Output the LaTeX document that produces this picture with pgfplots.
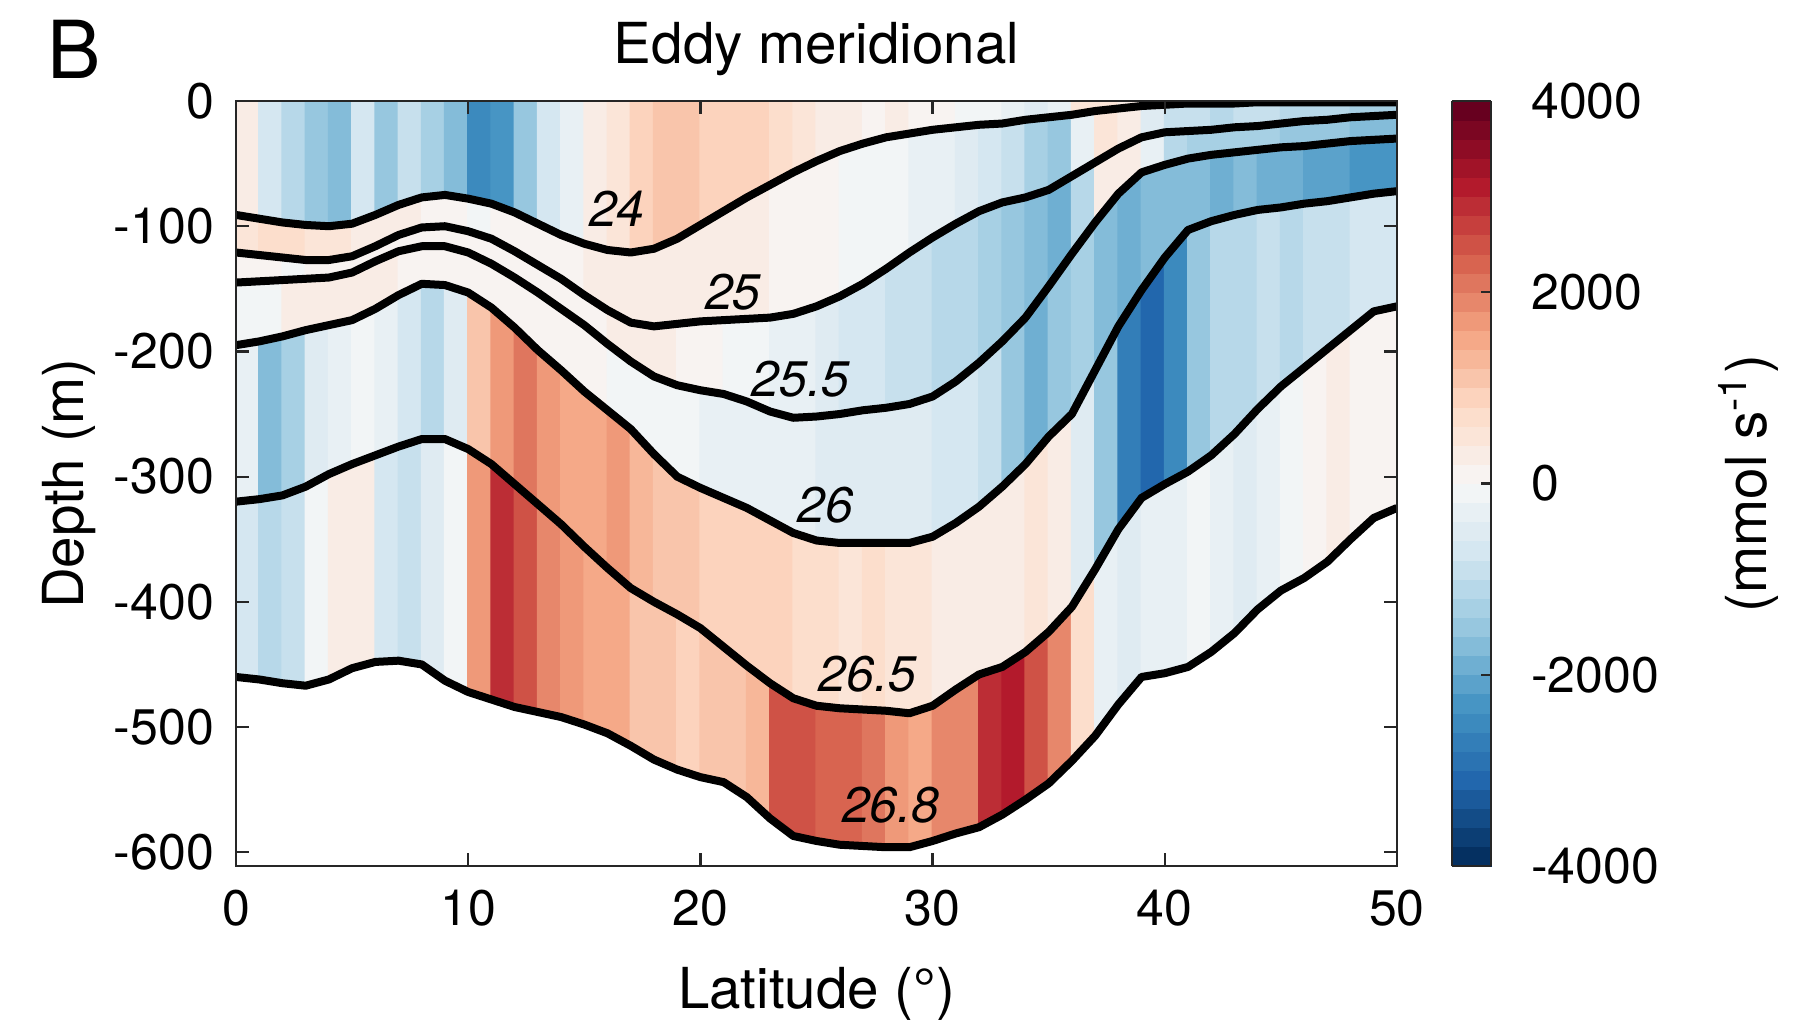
\documentclass[border=0pt]{standalone}
\usepackage{fontspec}
\setmainfont{TeX Gyre Heros}
\usepackage{pgfplots}
\usepackage{pgfplotstable}
\pgfplotsset{compat=1.18}
\pgfplotsset{colormap={rdbubase}{rgb255=(5,48,97) rgb255=(33,102,172) rgb255=(67,147,195) rgb255=(146,197,222) rgb255=(209,229,240) rgb255=(247,247,247) rgb255=(253,219,199) rgb255=(244,165,130) rgb255=(214,96,77) rgb255=(178,24,43) rgb255=(103,0,31)}}
% cells: value of the layer below each surface (k) for the latitude band [lat, lat+1)
\pgfplotstableread[row sep=\\]{
lat k d c\\
0 0 0 300\\ 0 1 -91 500\\ 0 2 -121 0\\ 0 3 -145 -200\\ 0 4 -195 -400\\ 0 5 -320 -700\\ 0 6 -460 0\\
1 0 0 -700\\ 1 1 -94 600\\ 1 2 -123 0\\ 1 3 -144 -100\\ 1 4 -192 -1800\\ 1 5 -318 -1200\\ 1 6 -462 0\\
2 0 0 -1200\\ 2 1 -97 600\\ 2 2 -125 -100\\ 2 3 -143 300\\ 2 4 -188 -1300\\ 2 5 -315 -900\\ 2 6 -465 0\\
3 0 0 -1600\\ 3 1 -99 500\\ 3 2 -127 0\\ 3 3 -142 300\\ 3 4 -183 -500\\ 3 5 -308 -200\\ 3 6 -467 0\\
4 0 0 -1700\\ 4 1 -100 400\\ 4 2 -127 100\\ 4 3 -141 300\\ 4 4 -179 -300\\ 4 5 -298 300\\ 4 6 -462 0\\
5 0 0 -800\\ 5 1 -98 300\\ 5 2 -124 100\\ 5 3 -137 200\\ 5 4 -175 -200\\ 5 5 -290 200\\ 5 6 -453 0\\
6 0 0 -1500\\ 6 1 -91 200\\ 6 2 -116 0\\ 6 3 -128 200\\ 6 4 -166 -300\\ 6 5 -283 -700\\ 6 6 -448 0\\
7 0 0 -900\\ 7 1 -83 200\\ 7 2 -107 0\\ 7 3 -120 100\\ 7 4 -155 -700\\ 7 5 -276 -1000\\ 7 6 -447 0\\
8 0 0 -1300\\ 8 1 -77 100\\ 8 2 -101 0\\ 8 3 -116 100\\ 8 4 -146 -1200\\ 8 5 -270 -600\\ 8 6 -450 0\\
9 0 0 -1800\\ 9 1 -75 0\\ 9 2 -100 0\\ 9 3 -116 0\\ 9 4 -147 -600\\ 9 5 -270 -100\\ 9 6 -463 0\\
10 0 0 -2600\\ 10 1 -78 -100\\ 10 2 -104 0\\ 10 3 -121 0\\ 10 4 -153 1000\\ 10 5 -278 1600\\ 10 6 -472 0\\
11 0 0 -2300\\ 11 1 -82 0\\ 11 2 -110 0\\ 11 3 -130 100\\ 11 4 -165 1700\\ 11 5 -290 2900\\ 11 6 -478 0\\
12 0 0 -1500\\ 12 1 -89 100\\ 12 2 -120 100\\ 12 3 -141 100\\ 12 4 -181 2000\\ 12 5 -306 2500\\ 12 6 -484 0\\
13 0 0 -800\\ 13 1 -98 100\\ 13 2 -131 100\\ 13 3 -153 0\\ 13 4 -199 1600\\ 13 5 -322 1800\\ 13 6 -488 0\\
14 0 0 -400\\ 14 1 -107 100\\ 14 2 -142 100\\ 14 3 -166 0\\ 14 4 -215 1500\\ 14 5 -338 1600\\ 14 6 -492 0\\
15 0 0 200\\ 15 1 -114 200\\ 15 2 -155 100\\ 15 3 -179 0\\ 15 4 -232 1500\\ 15 5 -356 1500\\ 15 6 -498 0\\
16 0 0 500\\ 16 1 -119 200\\ 16 2 -167 200\\ 16 3 -194 -100\\ 16 4 -247 1600\\ 16 5 -373 1500\\ 16 6 -505 0\\
17 0 0 900\\ 17 1 -121 300\\ 17 2 -177 200\\ 17 3 -208 -100\\ 17 4 -262 1200\\ 17 5 -389 1000\\ 17 6 -515 0\\
18 0 0 1100\\ 18 1 -118 300\\ 18 2 -180 200\\ 18 3 -220 -200\\ 18 4 -282 1000\\ 18 5 -400 1000\\ 18 6 -526 0\\
19 0 0 1100\\ 19 1 -110 300\\ 19 2 -178 100\\ 19 3 -227 -200\\ 19 4 -300 1000\\ 19 5 -410 900\\ 19 6 -534 0\\
20 0 0 900\\ 20 1 -99 200\\ 20 2 -176 0\\ 20 3 -231 -300\\ 20 4 -309 900\\ 20 5 -421 1100\\ 20 6 -540 0\\
21 0 0 800\\ 21 1 -88 200\\ 21 2 -175 -200\\ 21 3 -234 -300\\ 21 4 -317 900\\ 21 5 -436 1000\\ 21 6 -544 0\\
22 0 0 800\\ 22 1 -77 200\\ 22 2 -174 -200\\ 22 3 -240 -400\\ 22 4 -325 800\\ 22 5 -451 1300\\ 22 6 -556 0\\
23 0 0 700\\ 23 1 -67 100\\ 23 2 -173 -300\\ 23 3 -248 -400\\ 23 4 -335 800\\ 23 5 -465 2400\\ 23 6 -573 0\\
24 0 0 500\\ 24 1 -57 100\\ 24 2 -170 -400\\ 24 3 -253 -400\\ 24 4 -345 700\\ 24 5 -477 2500\\ 24 6 -587 0\\
25 0 0 300\\ 25 1 -48 0\\ 25 2 -164 -600\\ 25 3 -252 -500\\ 25 4 -351 600\\ 25 5 -483 2200\\ 25 6 -591 0\\
26 0 0 200\\ 26 1 -40 -100\\ 26 2 -156 -700\\ 26 3 -250 -500\\ 26 4 -353 500\\ 26 5 -485 2200\\ 26 6 -594 0\\
27 0 0 100\\ 27 1 -34 -200\\ 27 2 -146 -800\\ 27 3 -247 -500\\ 27 4 -353 700\\ 27 5 -486 2100\\ 27 6 -595 0\\
28 0 0 200\\ 28 1 -29 -200\\ 28 2 -134 -900\\ 28 3 -245 -600\\ 28 4 -353 500\\ 28 5 -487 1700\\ 28 6 -596 0\\
29 0 0 0\\ 29 1 -26 -300\\ 29 2 -121 -1000\\ 29 3 -242 -600\\ 29 4 -353 400\\ 29 5 -489 1500\\ 29 6 -596 0\\
30 0 0 100\\ 30 1 -23 -400\\ 30 2 -109 -1100\\ 30 3 -236 -700\\ 30 4 -348 300\\ 30 5 -483 1800\\ 30 6 -591 0\\
31 0 0 -100\\ 31 1 -21 -500\\ 31 2 -98 -1200\\ 31 3 -224 -800\\ 31 4 -337 200\\ 31 5 -470 1900\\ 31 6 -585 0\\
32 0 0 -200\\ 32 1 -19 -700\\ 32 2 -88 -1400\\ 32 3 -209 -1000\\ 32 4 -324 200\\ 32 5 -458 2800\\ 32 6 -580 0\\
33 0 0 -300\\ 33 1 -18 -1000\\ 33 2 -81 -1500\\ 33 3 -192 -1500\\ 33 4 -308 300\\ 33 5 -452 3100\\ 33 6 -570 0\\
34 0 0 -500\\ 34 1 -15 -1300\\ 34 2 -77 -1700\\ 34 3 -173 -1900\\ 34 4 -290 400\\ 34 5 -440 2500\\ 34 6 -558 0\\
35 0 0 -300\\ 35 1 -13 -1500\\ 35 2 -71 -1900\\ 35 3 -148 -1500\\ 35 4 -268 200\\ 35 5 -424 1800\\ 35 6 -545 0\\
36 0 0 400\\ 36 1 -11 -300\\ 36 2 -60 -1200\\ 36 3 -122 -1400\\ 36 4 -250 -500\\ 36 5 -404 600\\ 36 6 -527 0\\
37 0 0 500\\ 37 1 -8 400\\ 37 2 -49 300\\ 37 3 -97 -1800\\ 37 4 -215 -1500\\ 37 5 -374 -300\\ 37 6 -507 0\\
38 0 0 200\\ 38 1 -6 200\\ 38 2 -38 200\\ 38 3 -74 -2000\\ 38 4 -180 -2700\\ 38 5 -342 -500\\ 38 6 -482 0\\
39 0 0 -200\\ 39 1 -4 -500\\ 39 2 -29 -400\\ 39 3 -57 -1800\\ 39 4 -151 -3100\\ 39 5 -317 -400\\ 39 6 -460 0\\
40 0 0 -400\\ 40 1 -3 -900\\ 40 2 -25 -1200\\ 40 3 -51 -1700\\ 40 4 -125 -2500\\ 40 5 -306 -300\\ 40 6 -457 0\\
41 0 0 -300\\ 41 1 -2 -1000\\ 41 2 -24 -1300\\ 41 3 -46 -1800\\ 41 4 -103 -1500\\ 41 5 -296 -200\\ 41 6 -452 0\\
42 0 0 -500\\ 42 1 -2 -1100\\ 42 2 -23 -1400\\ 42 3 -43 -1900\\ 42 4 -96 -1200\\ 42 5 -283 -400\\ 42 6 -440 0\\
43 0 0 -400\\ 43 1 -2 -1000\\ 43 2 -21 -1400\\ 43 3 -41 -1800\\ 43 4 -91 -1100\\ 43 5 -266 -500\\ 43 6 -425 0\\
44 0 0 -300\\ 44 1 -1 -1000\\ 44 2 -20 -1300\\ 44 3 -39 -1900\\ 44 4 -87 -1000\\ 44 5 -246 -300\\ 44 6 -406 0\\
45 0 0 -500\\ 45 1 -1 -1100\\ 45 2 -18 -1500\\ 45 3 -37 -2000\\ 45 4 -85 -1200\\ 45 5 -228 -200\\ 45 6 -391 0\\
46 0 0 -400\\ 46 1 -1 -1200\\ 46 2 -16 -1500\\ 46 3 -36 -2100\\ 46 4 -82 -1000\\ 46 5 -213 100\\ 46 6 -381 0\\
47 0 0 -300\\ 47 1 -1 -1200\\ 47 2 -15 -1600\\ 47 3 -34 -2200\\ 47 4 -80 -900\\ 47 5 -198 200\\ 47 6 -368 0\\
48 0 0 -300\\ 48 1 -1 -1300\\ 48 2 -13 -1700\\ 48 3 -32 -2300\\ 48 4 -77 -800\\ 48 5 -183 100\\ 48 6 -350 0\\
49 0 0 -300\\ 49 1 -1 -1300\\ 49 2 -12 -1800\\ 49 3 -31 -2400\\ 49 4 -74 -700\\ 49 5 -168 100\\ 49 6 -333 0\\
50 0 0 -300\\ 50 1 -1 -1300\\ 50 2 -11 -1800\\ 50 3 -30 -2400\\ 50 4 -72 -700\\ 50 5 -164 100\\ 50 6 -325 0\\
}\datatable
% isopycnal depths
\pgfplotstableread{
lat s24 s25 s255 s26 s265 s268
0 -91 -121 -145 -195 -320 -460
1 -94 -123 -144 -192 -318 -462
2 -97 -125 -143 -188 -315 -465
3 -99 -127 -142 -183 -308 -467
4 -100 -127 -141 -179 -298 -462
5 -98 -124 -137 -175 -290 -453
6 -91 -116 -128 -166 -283 -448
7 -83 -107 -120 -155 -276 -447
8 -77 -101 -116 -146 -270 -450
9 -75 -100 -116 -147 -270 -463
10 -78 -104 -121 -153 -278 -472
11 -82 -110 -130 -165 -290 -478
12 -89 -120 -141 -181 -306 -484
13 -98 -131 -153 -199 -322 -488
14 -107 -142 -166 -215 -338 -492
15 -114 -155 -179 -232 -356 -498
16 -119 -167 -194 -247 -373 -505
17 -121 -177 -208 -262 -389 -515
18 -118 -180 -220 -282 -400 -526
19 -110 -178 -227 -300 -410 -534
20 -99 -176 -231 -309 -421 -540
21 -88 -175 -234 -317 -436 -544
22 -77 -174 -240 -325 -451 -556
23 -67 -173 -248 -335 -465 -573
24 -57 -170 -253 -345 -477 -587
25 -48 -164 -252 -351 -483 -591
26 -40 -156 -250 -353 -485 -594
27 -34 -146 -247 -353 -486 -595
28 -29 -134 -245 -353 -487 -596
29 -26 -121 -242 -353 -489 -596
30 -23 -109 -236 -348 -483 -591
31 -21 -98 -224 -337 -470 -585
32 -19 -88 -209 -324 -458 -580
33 -18 -81 -192 -308 -452 -570
34 -15 -77 -173 -290 -440 -558
35 -13 -71 -148 -268 -424 -545
36 -11 -60 -122 -250 -404 -527
37 -8 -49 -97 -215 -374 -507
38 -6 -38 -74 -180 -342 -482
39 -4 -29 -57 -151 -317 -460
40 -3 -25 -51 -125 -306 -457
41 -2 -24 -46 -103 -296 -452
42 -2 -23 -43 -96 -283 -440
43 -2 -21 -41 -91 -266 -425
44 -1 -20 -39 -87 -246 -406
45 -1 -18 -37 -85 -228 -391
46 -1 -16 -36 -82 -213 -381
47 -1 -15 -34 -80 -198 -368
48 -1 -13 -32 -77 -183 -350
49 -1 -12 -31 -74 -168 -333
50 -1 -11 -30 -72 -164 -325
}\linetable
\newcommand\tickfont{\fontsize{10}{12}\selectfont}
\newcommand\labfont{\fontsize{11.3}{13}\selectfont}
\begin{document}
\begin{tikzpicture}
\useasboundingbox (-47.2pt,-31.4pt) rectangle (313.4pt,173.2pt);
\begin{axis}[
  at={(0,0)}, anchor=south west,
  width=232.2pt, height=153pt, scale only axis,
  xmin=0, xmax=50, ymin=-611, ymax=0,
  xtick={0,10,20,30,40,50}, ytick={-600,-500,-400,-300,-200,-100,0},
  tick align=inside, major tick length=2.6pt,
  axis line style={line width=0.45pt, color=black!85},
  every tick/.style={color=black!85, line width=0.45pt},
  tick label style={font=\tickfont},
  /pgf/number format/assume math mode=true,
  xticklabel style={yshift=-1.3pt},
  yticklabel style={xshift=-0.9pt},
  xlabel={Latitude (°)}, ylabel={Depth (m)},
  label style={font=\labfont},
  xlabel style={at={(axis description cs:0.5,0)}, anchor=base, yshift=-28.4pt},
  ylabel style={at={(axis description cs:0,0.5)}, anchor=center, yshift=33.4pt},
  title={Eddy meridional},
  title style={font=\labfont, at={(axis description cs:0.5,1)}, anchor=base, yshift=1.6pt},
  colormap={rdbu40}{samples of colormap=(40 of rdbubase)},
  colormap access=piecewise constant,
  point meta min=-4000, point meta max=4000,
  colorbar,
  colorbar style={
    at={(parent axis.north east)}, anchor=north west, xshift=2.5pt,
    scale only axis, width=7.8pt, height=153pt,
    ytick={-4000,-2000,0,2000,4000},
    ytick pos=right, tick align=inside, major tick length=2pt,
    axis line style={line width=0.45pt, color=black!85},
    tick label style={font=\tickfont},
    /pgf/number format/assume math mode=true,
    /pgf/number format/1000 sep={},
    yticklabel style={xshift=4.5pt},
    ylabel={(mmol s\textsuperscript{-1})},
    ylabel style={font=\labfont, at={(rel axis cs:1,0.5)}, anchor=center, yshift=-51.4pt},
  },
  axis on top,
]
\addplot[surf, shader=flat corner, mesh/ordering=y varies, mesh/rows=7, mesh/cols=51, point meta=explicit]
  table[x=lat, y=d, meta=c] {\datatable};
\addplot[black, line width=1.6pt, line join=round, no marks] table[x=lat, y=s24] {\linetable};
\addplot[black, line width=1.6pt, line join=round, no marks] table[x=lat, y=s25] {\linetable};
\addplot[black, line width=1.6pt, line join=round, no marks] table[x=lat, y=s255] {\linetable};
\addplot[black, line width=1.6pt, line join=round, no marks] table[x=lat, y=s26] {\linetable};
\addplot[black, line width=1.6pt, line join=round, no marks] table[x=lat, y=s265] {\linetable};
\addplot[black, line width=1.6pt, line join=round, no marks] table[x=lat, y=s268] {\linetable};
\begin{scope}[every node/.style={font=\fontsize{10}{12}\selectfont\itshape, inner sep=0pt}]
\node at (axis cs:16.4,-86) {24};
\node at (axis cs:21.4,-153) {25};
\node at (axis cs:24.3,-222) {25.5};
\node at (axis cs:25.4,-323) {26};
\node at (axis cs:27.2,-458) {26.5};
\node at (axis cs:28.2,-562) {26.8};
\end{scope}
\end{axis}
\node[anchor=base west, inner sep=0pt, font=\fontsize{16}{16}\selectfont] at (-38pt,157.6pt) {B};
\end{tikzpicture}
\end{document}
